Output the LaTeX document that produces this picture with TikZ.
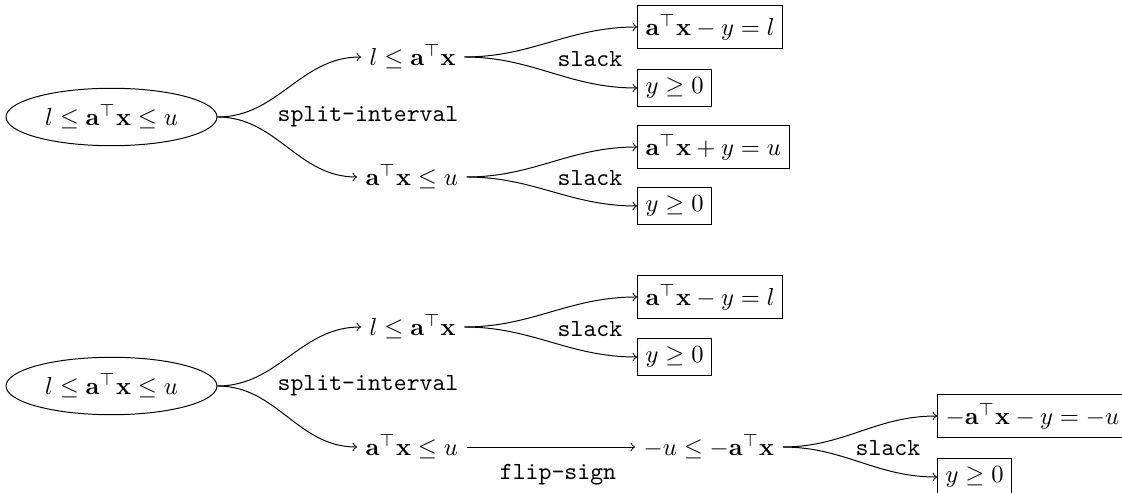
\documentclass[tikz,border=0pt]{standalone}
\usetikzlibrary{shapes.geometric}
\begin{document}
\begin{tikzpicture}[x=0.4065pt,y=-0.4065pt,
  every node/.style={font=\normalsize},
  ellnode/.style={draw,ellipse},
  plainnode/.style={anchor=west},
  boxnode/.style={draw,anchor=west},
  lbl/.style={font=\ttfamily},
  edge/.style={->},
  fan/.style={->,out=0,in=180}]
\useasboundingbox (0,0) rectangle (1122,493);
% ---------- top group ----------
\node[ellnode] (e1) at (111.5,117) {$l \leq \mathbf{a}^\top\mathbf{x} \leq u$};
\node[plainnode] (a1) at (361,57) {$l \leq \mathbf{a}^\top\mathbf{x}$};
\node[plainnode] (b1) at (357,177) {$\mathbf{a}^\top\mathbf{x} \leq u$};
\node[boxnode] (a1p) at (637,27) {$\mathbf{a}^\top\mathbf{x} - y = l$};
\node[boxnode] (a1q) at (637,88) {$y \geq 0$};
\node[boxnode] (b1p) at (637,147) {$\mathbf{a}^\top\mathbf{x} + y = u$};
\node[boxnode] (b1q) at (637,206) {$y \geq 0$};
\node[lbl] (s1) at (368,117) {split-interval};
\node[lbl] (k1) at (590,59) {slack};
\node[lbl] (k2) at (590,178) {slack};
\draw[fan] (e1.east) to (a1.west);
\draw[fan] (e1.east) to (b1.west);
\draw[fan] (a1.east) to (a1p.west);
\draw[fan] (a1.east) to (a1q.west);
\draw[fan] (b1.east) to (b1p.west);
\draw[fan] (b1.east) to (b1q.west);
% ---------- bottom group ----------
\node[ellnode] (e2) at (111.5,386) {$l \leq \mathbf{a}^\top\mathbf{x} \leq u$};
\node[plainnode] (a2) at (361,327) {$l \leq \mathbf{a}^\top\mathbf{x}$};
\node[plainnode] (b2) at (357,447) {$\mathbf{a}^\top\mathbf{x} \leq u$};
\node[boxnode] (a2p) at (637,297) {$\mathbf{a}^\top\mathbf{x} - y = l$};
\node[boxnode] (a2q) at (637,357) {$y \geq 0$};
\node[plainnode] (c2) at (635,447) {$-u \leq -\mathbf{a}^\top\mathbf{x}$};
\node[boxnode] (c2p) at (937,416) {$-\mathbf{a}^\top\mathbf{x} - y = -u$};
\node[boxnode] (c2q) at (937,477) {$y \geq 0$};
\node[lbl] (s2) at (368,386) {split-interval};
\node[lbl] (k3) at (590,329) {slack};
\node[lbl] (f2) at (558,475) {flip-sign};
\node[lbl] (k4) at (888,448) {slack};
\draw[fan] (e2.east) to (a2.west);
\draw[fan] (e2.east) to (b2.west);
\draw[fan] (a2.east) to (a2p.west);
\draw[fan] (a2.east) to (a2q.west);
\draw[edge] (b2.east) -- (c2.west);
\draw[fan] (c2.east) to (c2p.west);
\draw[fan] (c2.east) to (c2q.west);
\end{tikzpicture}
\end{document}
